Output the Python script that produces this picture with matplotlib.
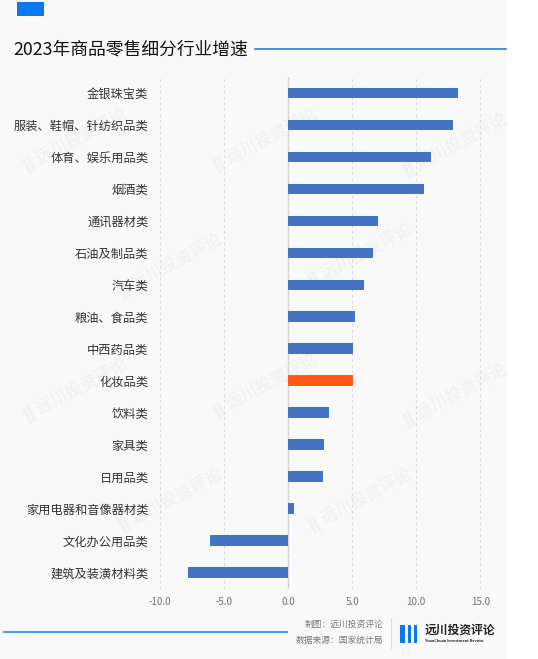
import matplotlib.pyplot as plt
from matplotlib.patches import Rectangle
import numpy as np

plt.rcParams['font.family'] = ['Noto Sans CJK SC', 'DejaVu Sans']

# 数据
categories = ['金银珠宝类', '服装、鞋帽、针纺织品类', '体育、娱乐用品类', '烟酒类',
              '通讯器材类', '石油及制品类', '汽车类', '粮油、食品类', '中西药品类',
              '化妆品类', '饮料类', '家具类', '日用品类', '家用电器和音像器材类',
              '文化办公用品类', '建筑及装潢材料类']
growth = [13.3, 12.9, 11.2, 10.6, 7.0, 6.6, 5.9, 5.2, 5.1, 5.1, 3.2, 2.8, 2.7, 0.5, -6.1, -7.8]
highlight = '化妆品类'
xticks = [-10, -5, 0, 5, 10, 15]

W, H = 538, 659
fig = plt.figure(figsize=(W / 100, H / 100), dpi=100)
fig.patch.set_facecolor('white')

def px(x, y):
    return x / W, 1 - y / H

# 浅灰背景
fig.patches.append(Rectangle((0, 0), 506 / W, 1, transform=fig.transFigure,
                             facecolor='#f9f9f9', edgecolor='none', zorder=-2))

# 水印
for (wx, wy) in [(75, 140), (265, 140), (455, 145), (360, 255), (170, 265),
                 (75, 390), (265, 385), (455, 395), (360, 500), (170, 500)]:
    fig.text(*px(wx, wy), 'ǁ 远川投资评论', color='#f1f1f1', fontsize=12, rotation=28,
             ha='center', va='center', zorder=-1, fontweight='bold')

ax = fig.add_axes([147 / W, 1 - 588.5 / H, (493 - 147) / W, (588.5 - 77) / H])
ax.set_facecolor('none')

y = np.arange(len(categories))
colors = ['#ff5a1a' if c == highlight else '#4472c4' for c in categories]
ax.barh(y, growth, height=0.33, color=colors, zorder=3)

ax.set_xlim(-11, 16)
ax.set_ylim(len(categories) - 0.5, -0.5)
ax.set_yticks(y)
ax.set_yticklabels(categories, fontsize=8.8, color='#333333')
ax.set_xticks(xticks)
ax.set_xticklabels([f'{v:.1f}' for v in xticks], fontsize=7, color='#707070')
ax.tick_params(length=0, pad=6)
ax.tick_params(axis='y', pad=-1)
ax.grid(axis='x', linestyle=(0, (3, 3)), color='#dcdcdc', linewidth=0.7, zorder=0)
ax.axvline(0, color='#d0d0d0', linewidth=1, zorder=1)
for s in ax.spines.values():
    s.set_visible(False)

# 标题
fig.patches.append(Rectangle(px(17, 16), 27 / W, 14 / H, transform=fig.transFigure,
                             facecolor='#0a78f5', edgecolor='none'))
fig.text(*px(13, 50), '2023年商品零售细分行业增速', fontsize=12.8, color='#111111',
         ha='left', va='center')
fig.add_artist(plt.Line2D([255 / W, 506 / W], [1 - 49 / H] * 2, color='#2b7be0',
                          linewidth=1.2, transform=fig.transFigure))

# 底部
fig.add_artist(plt.Line2D([4 / W, 287 / W], [1 - 632 / H] * 2, color='#3d8ef0',
                          linewidth=1.3, transform=fig.transFigure))
fig.text(*px(383, 624), '制图：远川投资评论', fontsize=6.3, color='#777777', ha='right', va='center')
fig.text(*px(383, 640), '数据来源：国家统计局', fontsize=6.3, color='#777777', ha='right', va='center')
fig.add_artist(plt.Line2D([391 / W] * 2, [1 - 618 / H, 1 - 648 / H], color='#dddddd',
                          linewidth=0.8, transform=fig.transFigure))
for bx, bw in [(400, 5), (408, 3), (414, 3)]:
    fig.patches.append(Rectangle(px(bx, 643), bw / W, 18 / H, transform=fig.transFigure,
                                 facecolor='#0a78f5', edgecolor='none'))
fig.text(*px(425, 630), '远川投资评论', fontsize=8.5, color='#222222', ha='left',
         va='center', fontweight='bold')
fig.text(*px(425, 641), 'YuanChuan Investment Review', fontsize=2.8, color='#222222',
         ha='left', va='center', fontweight='bold')

fig.savefig('out.png', dpi=100, facecolor=fig.get_facecolor())
